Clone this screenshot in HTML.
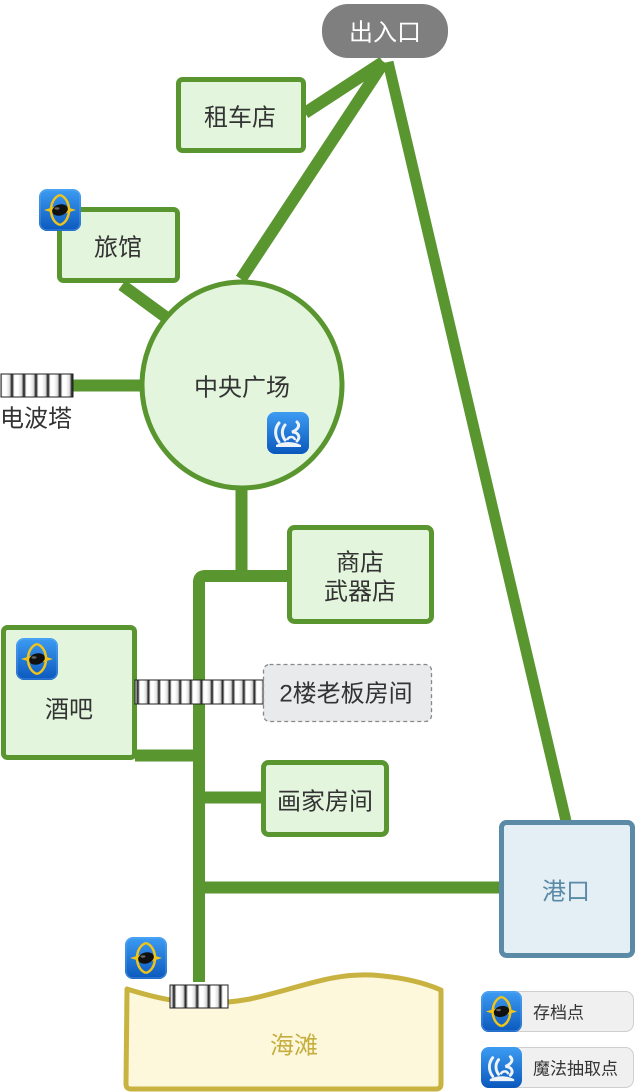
<!DOCTYPE html>
<html><head><meta charset="utf-8"><style>
html,body{margin:0;padding:0;background:#fff;}
svg{display:block;}
text{font-family:"Liberation Sans","Noto Sans CJK SC",sans-serif;dominant-baseline:central;}
</style></head><body>
<svg width="636" height="1092" viewBox="0 0 636 1092" xmlns="http://www.w3.org/2000/svg">
<defs>
<linearGradient id="blue" x1="0" y1="0" x2="0" y2="1">
<stop offset="0" stop-color="#3d9cf2"/><stop offset="1" stop-color="#0b58bd"/>
</linearGradient>
<linearGradient id="stripe" x1="0" y1="0" x2="1" y2="0">
<stop offset="0" stop-color="#111"/><stop offset="0.2" stop-color="#fff"/><stop offset="0.5" stop-color="#fff"/><stop offset="0.8" stop-color="#ddd"/><stop offset="1" stop-color="#111"/>
</linearGradient>
<pattern id="st12" width="12" height="30" patternUnits="userSpaceOnUse">
<rect width="12" height="30" fill="url(#stripe)"/>
</pattern>
<pattern id="st105" width="10.6" height="30" patternUnits="userSpaceOnUse">
<rect width="10.6" height="30" fill="url(#stripe)"/>
</pattern>
<pattern id="st116" width="11.6" height="30" patternUnits="userSpaceOnUse">
<rect width="11.6" height="30" fill="url(#stripe)"/>
</pattern>
<g id="saveicon">
<rect x="0" y="0" width="42" height="42" rx="8" fill="url(#blue)"/>
<rect x="1" y="1" width="40" height="40" rx="7" fill="none" stroke="#6fb6f5" stroke-width="1" opacity="0.5"/>
<path d="M21,6 C9,10 9,32 21,36" fill="none" stroke="#f0c419" stroke-width="2.5"/>
<path d="M21,6 C33,10 33,32 21,36" fill="none" stroke="#f0c419" stroke-width="2.5"/>
<path d="M5,21 L21,16 L37,21 L21,26 Z" fill="#f0c419"/>
<ellipse cx="21" cy="21" rx="8" ry="5.5" fill="#111" transform="rotate(-15 21 21)"/>
<ellipse cx="18" cy="19.5" rx="2.5" ry="1.2" fill="#666"/>
</g>
<g id="magicicon">
<rect x="0" y="0" width="42" height="42" rx="8" fill="url(#blue)"/>
<path d="M12,11 C7,17 8,25 12,30" fill="none" stroke="#eef3f8" stroke-width="3" stroke-linecap="round"/>
<path d="M18,13 C14,18 15,24 18,28" fill="none" stroke="#eef3f8" stroke-width="3" stroke-linecap="round"/>
<path d="M30,10 C34,14 30,18 25,20 C31,20 34,25 30,29" fill="none" stroke="#eef3f8" stroke-width="3" stroke-linecap="round"/>
<path d="M9,33 C16,29 26,29 34,33 L34,35 L9,35 Z" fill="#eef3f8"/>
<path d="M20,28 C22,24 27,24 28,28" fill="none" stroke="#eef3f8" stroke-width="2.5"/>
</g>
</defs>

<!-- connectors -->
<g stroke="#5a962f" stroke-width="12" fill="none">
<line x1="305" y1="113" x2="383" y2="62"/>
<line x1="241" y1="279" x2="384" y2="62"/>
<line x1="388" y1="62" x2="566" y2="821" stroke-width="11"/>
<line x1="122" y1="285" x2="167" y2="318"/>
<line x1="73" y1="385.5" x2="142" y2="385.5"/>
<line x1="241.5" y1="489" x2="241.5" y2="576"/>
<path d="M199,982 L199,582 Q199,576 205,576 L289,576" stroke-linejoin="round"/>
<line x1="135" y1="755.5" x2="205" y2="755.5"/>
<line x1="205" y1="797.5" x2="262" y2="797.5"/>
<line x1="205" y1="887.5" x2="500" y2="887.5"/>
</g>

<!-- 出入口 -->
<rect x="322" y="4" width="126" height="54" rx="26" fill="#7f7f7f"/>
<text x="385" y="33" font-size="24" fill="#fff" text-anchor="middle">出入口</text>

<!-- 租车店 -->
<rect x="178.5" y="79.5" width="125" height="71" rx="4" fill="#e3f5dc" stroke="#5a962f" stroke-width="5"/>
<text x="240" y="118" font-size="24" fill="#333" text-anchor="middle">租车店</text>

<!-- 旅馆 -->
<rect x="59.5" y="209.5" width="118" height="71" rx="4" fill="#e3f5dc" stroke="#5a962f" stroke-width="5"/>
<text x="118" y="248" font-size="24" fill="#333" text-anchor="middle">旅馆</text>
<use href="#saveicon" x="39" y="189"/>

<!-- 电波塔 -->
<rect x="1" y="374" width="72" height="23" fill="url(#st12)" stroke="#222" stroke-width="1"/>
<text x="0" y="419" font-size="24" fill="#333">电波塔</text>

<!-- 中央广场 -->
<ellipse cx="242" cy="385" rx="100" ry="103" fill="#e3f5dc" stroke="#5a962f" stroke-width="5"/>
<text x="242" y="388" font-size="24" fill="#333" text-anchor="middle">中央广场</text>
<use href="#magicicon" x="267" y="412"/>

<!-- 商店 -->
<rect x="289.5" y="527.5" width="142" height="94" rx="5" fill="#e3f5dc" stroke="#5a962f" stroke-width="5"/>
<text x="360" y="563" font-size="24" fill="#333" text-anchor="middle">商店</text>
<text x="360" y="592" font-size="24" fill="#333" text-anchor="middle">武器店</text>

<!-- 酒吧 -->
<rect x="3.5" y="627.5" width="131" height="130" rx="4" fill="#e3f5dc" stroke="#5a962f" stroke-width="5"/>
<text x="69" y="710" font-size="24" fill="#333" text-anchor="middle">酒吧</text>
<use href="#saveicon" x="16" y="638"/>

<!-- stripe bar to 2楼 -->
<rect x="135" y="680" width="128" height="24" fill="url(#st105)" stroke="#222" stroke-width="1"/>

<!-- 2楼老板房间 -->
<rect x="263.5" y="664.5" width="168" height="57" rx="6" fill="#e8eaec" stroke="#888" stroke-width="1.3" stroke-dasharray="4,3"/>
<text x="346" y="694" font-size="24" fill="#333" text-anchor="middle">2楼老板房间</text>

<!-- 画家房间 -->
<rect x="263.5" y="762.5" width="123" height="72" rx="5" fill="#e3f5dc" stroke="#5a962f" stroke-width="5"/>
<text x="325" y="802" font-size="24" fill="#333" text-anchor="middle">画家房间</text>

<!-- 港口 -->
<rect x="501.5" y="822.5" width="131" height="133" rx="5" fill="#e3eef5" stroke="#5a8aa6" stroke-width="5"/>
<text x="566" y="892" font-size="24" fill="#5a8aa6" text-anchor="middle">港口</text>

<!-- 海滩 -->
<path d="M127,989 C165,1001 200,1008 250,999 C300,988 330,973 372,975 C402,977 425,983 441,990 L441,1084 Q441,1089 436,1089 L131,1089 Q126,1089 126,1084 Z" fill="#fdf7dc" stroke="#c8b340" stroke-width="5" stroke-linejoin="round"/>
<text x="294" y="1046" font-size="24" fill="#c5ae3e" text-anchor="middle">海滩</text>
<rect x="170" y="985" width="58" height="23" fill="url(#st116)" stroke="#222" stroke-width="1"/>
<use href="#saveicon" x="125" y="937"/>

<!-- legend -->
<rect x="481.5" y="991.5" width="152" height="40" rx="8" fill="#f0f0f0" stroke="#cfcfcf" stroke-width="1"/>
<use href="#saveicon" x="481" y="991" transform="translate(481 991) scale(0.976) translate(-481 -991)"/>
<text x="533" y="1013" font-size="17" fill="#333">存档点</text>
<rect x="481.5" y="1047.5" width="152" height="40" rx="8" fill="#f0f0f0" stroke="#cfcfcf" stroke-width="1"/>
<use href="#magicicon" x="481" y="1047" transform="translate(481 1047) scale(0.976) translate(-481 -1047)"/>
<text x="533" y="1069" font-size="17" fill="#333">魔法抽取点</text>
</svg>
</body></html>
